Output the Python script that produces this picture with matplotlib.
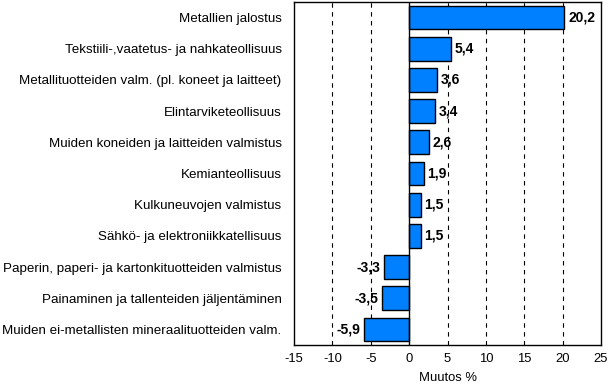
import matplotlib
matplotlib.use("Agg")
import matplotlib.pyplot as plt
from matplotlib import font_manager

categories = [
    "Metallien jalostus",
    "Tekstiili-,vaatetus- ja nahkateollisuus",
    "Metallituotteiden valm. (pl. koneet ja laitteet)",
    "Elintarviketeollisuus",
    "Muiden koneiden ja laitteiden valmistus",
    "Kemianteollisuus",
    "Kulkuneuvojen valmistus",
    "Sähkö- ja elektroniikkatellisuus",
    "Paperin, paperi- ja kartonkituotteiden valmistus",
    "Painaminen ja tallenteiden jäljentäminen",
    "Muiden ei-metallisten mineraalituotteiden valm.",
]
values = [20.2, 5.4, 3.6, 3.4, 2.6, 1.9, 1.5, 1.5, -3.3, -3.5, -5.9]
xticks = [-15, -10, -5, 0, 5, 10, 15, 20, 25]

names = {f.name for f in font_manager.fontManager.ttflist}
family = ["Liberation Sans Narrow"] if "Liberation Sans Narrow" in names else ["Liberation Sans"]
plt.rcParams["font.family"] = family + ["DejaVu Sans"]

fig = plt.figure(figsize=(6.08, 3.86), dpi=100)
ax = fig.add_axes([0.4836, 0.1062, 0.5049, 0.8886])

y = list(range(len(categories)))
ax.barh(y, values, height=0.76, color="#0080FF", edgecolor="black", linewidth=1.0, zorder=3)
ax.set_ylim(len(categories) - 0.5, -0.5)
ax.set_xlim(-15, 25)

for x in xticks:
    if x == 0:
        ax.axvline(0, color="black", linewidth=1.0, zorder=4)
    elif -15 < x < 25:
        ax.axvline(x, color="black", linewidth=0.8, linestyle=(0, (4, 4)), zorder=1)

for yi, v in zip(y, values):
    txt = f"{v:.1f}".replace(".", ",")
    if v >= 0:
        ax.text(v + 0.5, yi, txt, ha="left", va="center", fontsize=10, fontweight="bold", zorder=5)
    else:
        ax.text(v - 0.5, yi, txt, ha="right", va="center", fontsize=10, fontweight="bold", zorder=5)

ax.set_yticks(y)
ax.set_yticklabels(categories, fontsize=9.6)
ax.set_xticks(xticks)
ax.set_xticklabels([str(t) for t in xticks], fontsize=9.4)
ax.tick_params(axis="both", length=0)
ax.tick_params(axis="x", pad=6)
ax.tick_params(axis="y", pad=9)
ax.set_xlabel("Muutos %", fontsize=9.4, labelpad=5)
for s in ax.spines.values():
    s.set_color("black")
    s.set_linewidth(1.0)

fig.savefig("out.png", dpi=100)
